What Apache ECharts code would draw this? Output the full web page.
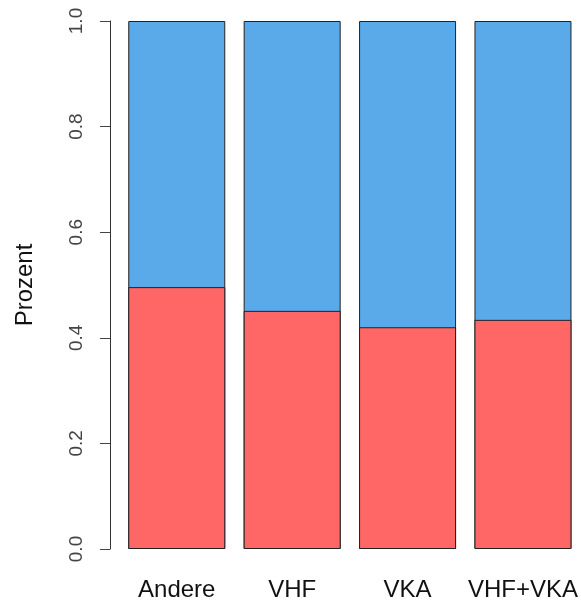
<!DOCTYPE html>
<html><head><meta charset="utf-8">
<script src="https://cdn.jsdelivr.net/npm/echarts@6/dist/echarts.min.js"></script>
<style>html,body{margin:0;padding:0;background:#fff}#c{width:581px;height:604px}</style>
</head><body><div id="c"></div>
<script>
var categories = ["Andere", "VHF", "VKA", "VHF+VKA"];
var redShare = [0.496, 0.451, 0.420, 0.434];
var blueShare = [0.504, 0.549, 0.580, 0.566];
var yTicks = [0, 0.2, 0.4, 0.6, 0.8, 1.0];

// bar positions on the x scale, and the cumulative top of each stack
var positions = categories.map(function (c, i) { return i + 1; });
var redData = positions.map(function (p, i) { return [p, redShare[i]]; });
var totalData = positions.map(function (p, i) { return [p, redShare[i] + blueShare[i]]; });

var chart = echarts.init(document.getElementById('c'), null, {renderer: 'canvas'});
var font = "'Liberation Sans', Arial, sans-serif";
chart.setOption({
  animation: false,
  grid: {left: 110, top: 21, width: 471, height: 528, containLabel: false},
  xAxis: {
    type: 'value', min: 0.4216, max: 4.488,
    axisLine: {show: false}, axisTick: {show: false}, splitLine: {show: false},
    axisLabel: {customValues: positions, hideOverlap: false, fontFamily: font, fontSize: 24, color: '#111', margin: 29,
      formatter: function (v) { return categories[Math.round(v) - 1] || ''; }}
  },
  yAxis: {
    type: 'value', min: 0, max: 1, interval: 0.2,
    name: 'Prozent', nameLocation: 'middle', nameGap: 73, nameRotate: 90,
    nameTextStyle: {fontFamily: font, fontSize: 24, color: '#111'},
    axisLine: {show: true, onZero: false, lineStyle: {color: '#333', width: 1}},
    axisTick: {show: true, length: 10, lineStyle: {color: '#444'}},
    splitLine: {show: false},
    axisLabel: {customValues: yTicks, rotate: 90, fontFamily: font, fontSize: 19, color: '#444', margin: 24,
      formatter: function (v) { return v.toFixed(1); }}
  },
  series: [
    {type: 'bar', data: totalData, barWidth: 97, barGap: '-100%', z: 2,
      itemStyle: {color: '#5AAAEA', borderColor: '#222', borderWidth: 1}},
    {type: 'bar', data: redData, barWidth: 97, barGap: '-100%', z: 3,
      itemStyle: {color: '#FF6666', borderColor: '#222', borderWidth: 1}}
  ]
});
</script></body></html>
